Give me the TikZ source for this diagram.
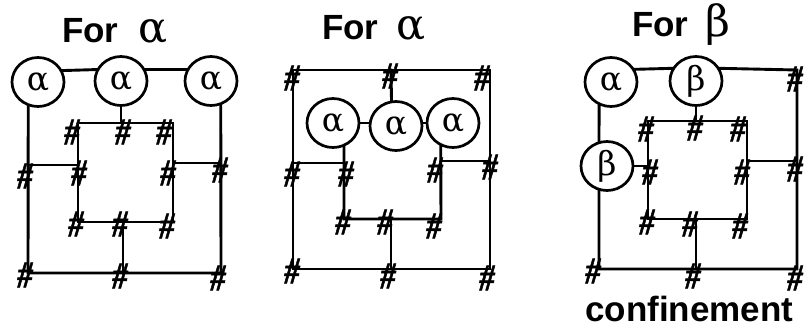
\documentclass[tikz,border=0pt]{standalone}
\usepackage{fontspec}
\setmainfont{Liberation Serif}
\newfontfamily\hd{Liberation Sans}[BoldFont=* Bold]
\newfontfamily\gkf{DejaVu Serif}
\newfontfamily\hashf{Liberation Serif}[FakeStretch=0.8,FakeBold=1.2]
\usetikzlibrary{shapes.geometric}
\newcommand{\gkt}{\gkf\mdseries\fontsize{43}{43}\selectfont}
\begin{document}
\begin{tikzpicture}[x=1pt,y=-1pt,
  wire/.style={line width=2.9pt,line cap=rect},
  blob/.style={ellipse,draw,line width=2.7pt,minimum width=52pt,minimum height=49pt,inner sep=0pt,font=\gkf\fontsize{33}{33}\selectfont},
  hash/.style={inner sep=0pt,font=\hashf\fontsize{38}{38}\selectfont\bfseries\itshape},
  ttl/.style={inner sep=0pt,anchor=base west,font=\hd\bfseries\fontsize{35}{35}\selectfont}]
\useasboundingbox (0,0) rectangle (806,327);
% titles
\node[ttl] (t1) at (62,42) {For\hspace{20pt}{\gkt α}};
\node[ttl] (t2) at (322,39) {For\hspace{18pt}{\gkt α}};
\node[ttl] (t3) at (632,36) {For\hspace{17pt}{\gkt β}};
\node[ttl] (t4) at (585,321) {confinement};

% ---------- panel 1 ----------
\coordinate (p1bl) at (28,273); \coordinate (p1br) at (221,273);
\coordinate (p1bm) at (123,273);
\coordinate (p1itl) at (78,123); \coordinate (p1itr) at (173,123);
\coordinate (p1ibl) at (78,222); \coordinate (p1ibr) at (173,222);
\coordinate (p1ibm) at (123,222);
\coordinate (p1lo) at (28,165); \coordinate (p1li) at (78,165);
\coordinate (p1ro) at (221,163); \coordinate (p1ri) at (173,163);
\node[blob] (a1) at (38,82) {α};
\node[blob] (a2) at (121,81) {α};
\node[blob] (a3) at (211,81) {α};
\draw[wire] (a1.25) -- (a2.155);
\draw[wire] (a2.25) -- (a3.155);
\draw[wire] (a1.248) -- (p1bl) -- (p1br) -- (a3.292);
\draw[wire] (a2.south) -- (a2.south |- p1itl);
\draw[wire] (p1itl) -- (p1itr) -- (p1ibr) -- (p1ibl) -- cycle;
\draw[wire] (p1ibm) -- (p1bm);
\draw[wire] (p1lo) -- (p1li);
\draw[wire] (p1ri) -- (p1ro);
\foreach \n/\x/\y in {h11/72/132,h12/123/132,h13/164/132,
  h14/25/176,h15/79/173,h16/168/173,h17/220/170,
  h18/76/224,h19/120/224,h110/167/226,
  h111/25/275,h112/120/276,h113/218/278}
  \node[hash] (\n) at (\x,\y) {\#};

% ---------- panel 2 ----------
\coordinate (p2tl) at (293,70); \coordinate (p2tr) at (490,70);
\coordinate (p2bl) at (293,269); \coordinate (p2br) at (490,269);
\coordinate (p2tm) at (391,70); \coordinate (p2bm) at (391,269);
\coordinate (p2ul) at (344,219); \coordinate (p2ur) at (441,219);
\coordinate (p2um) at (391,219);
\coordinate (p2lo) at (293,163); \coordinate (p2li) at (344,163);
\coordinate (p2ro) at (490,161); \coordinate (p2ri) at (441,161);
\node[blob] (b1) at (333,123) {α};
\node[blob] (b2) at (396,126) {α};
\node[blob] (b3) at (453,123) {α};
\draw[wire] (p2tl) -- (p2tr) -- (p2br) -- (p2bl) -- cycle;
\draw[wire] (p2tm) -- (b2.100);
\draw[wire] (b1.east) -- (b2.west |- b1.east);
\draw[wire] (b2.east |- b3.west) -- (b3.west);
\draw[wire] (b1.295) -- (p2ul) -- (p2ur) -- (b3.242);
\draw[wire] (p2um) -- (p2bm);
\draw[wire] (p2lo) -- (p2li);
\draw[wire] (p2ri) -- (p2ro);
\foreach \n/\x/\y in {h21/292/78,h22/390/76,h23/482/78,
  h24/292/174,h25/346/174,h26/435/170,h27/490/167,
  h28/343/222,h29/385/222,h210/434/226,
  h211/292/271,h212/388/276,h213/487/278}
  \node[hash] (\n) at (\x,\y) {\#};

% ---------- panel 3 ----------
\coordinate (p3tr) at (797,70); \coordinate (p3br) at (797,269);
\coordinate (p3bl) at (599,269); \coordinate (p3bm) at (696,269);
\coordinate (p3itl) at (648,121); \coordinate (p3itr) at (747,121);
\coordinate (p3ibl) at (648,219); \coordinate (p3ibr) at (747,219);
\coordinate (p3ibm) at (696,219);
\coordinate (p3ro) at (797,161); \coordinate (p3ri) at (747,161);
\node[blob] (g1) at (611,82) {α};
\node[blob] (g2) at (696,81) {β};
\node[blob] (g3) at (607,166) {β};
\draw[wire] (g1.28) -- (g2.152);
\draw[wire] (g2.28) -- (p3tr) -- (p3br) -- (p3bl) -- (g3.252);
\draw[wire] (g3.108) -- (g1.243);
\draw[wire] (g2.south) -- (g2.south |- p3itl);
\draw[wire] (p3itl) -- (p3itr) -- (p3ibr) -- (p3ibl) -- cycle;
\draw[wire] (g3.east) -- (g3.east -| p3itl);
\draw[wire] (p3ri) -- (p3ro);
\draw[wire] (p3ibm) -- (p3bm);
\foreach \n/\x/\y in {h31/646/129,h32/695/128,h33/738/129,h34/795/79,
  h35/650/172,h36/742/172,h37/795/169,
  h38/647/222,h39/690/224,h310/740/226,
  h311/593/271,h312/693/276,h313/795/278}
  \node[hash] (\n) at (\x,\y) {\#};
\end{tikzpicture}
\end{document}
